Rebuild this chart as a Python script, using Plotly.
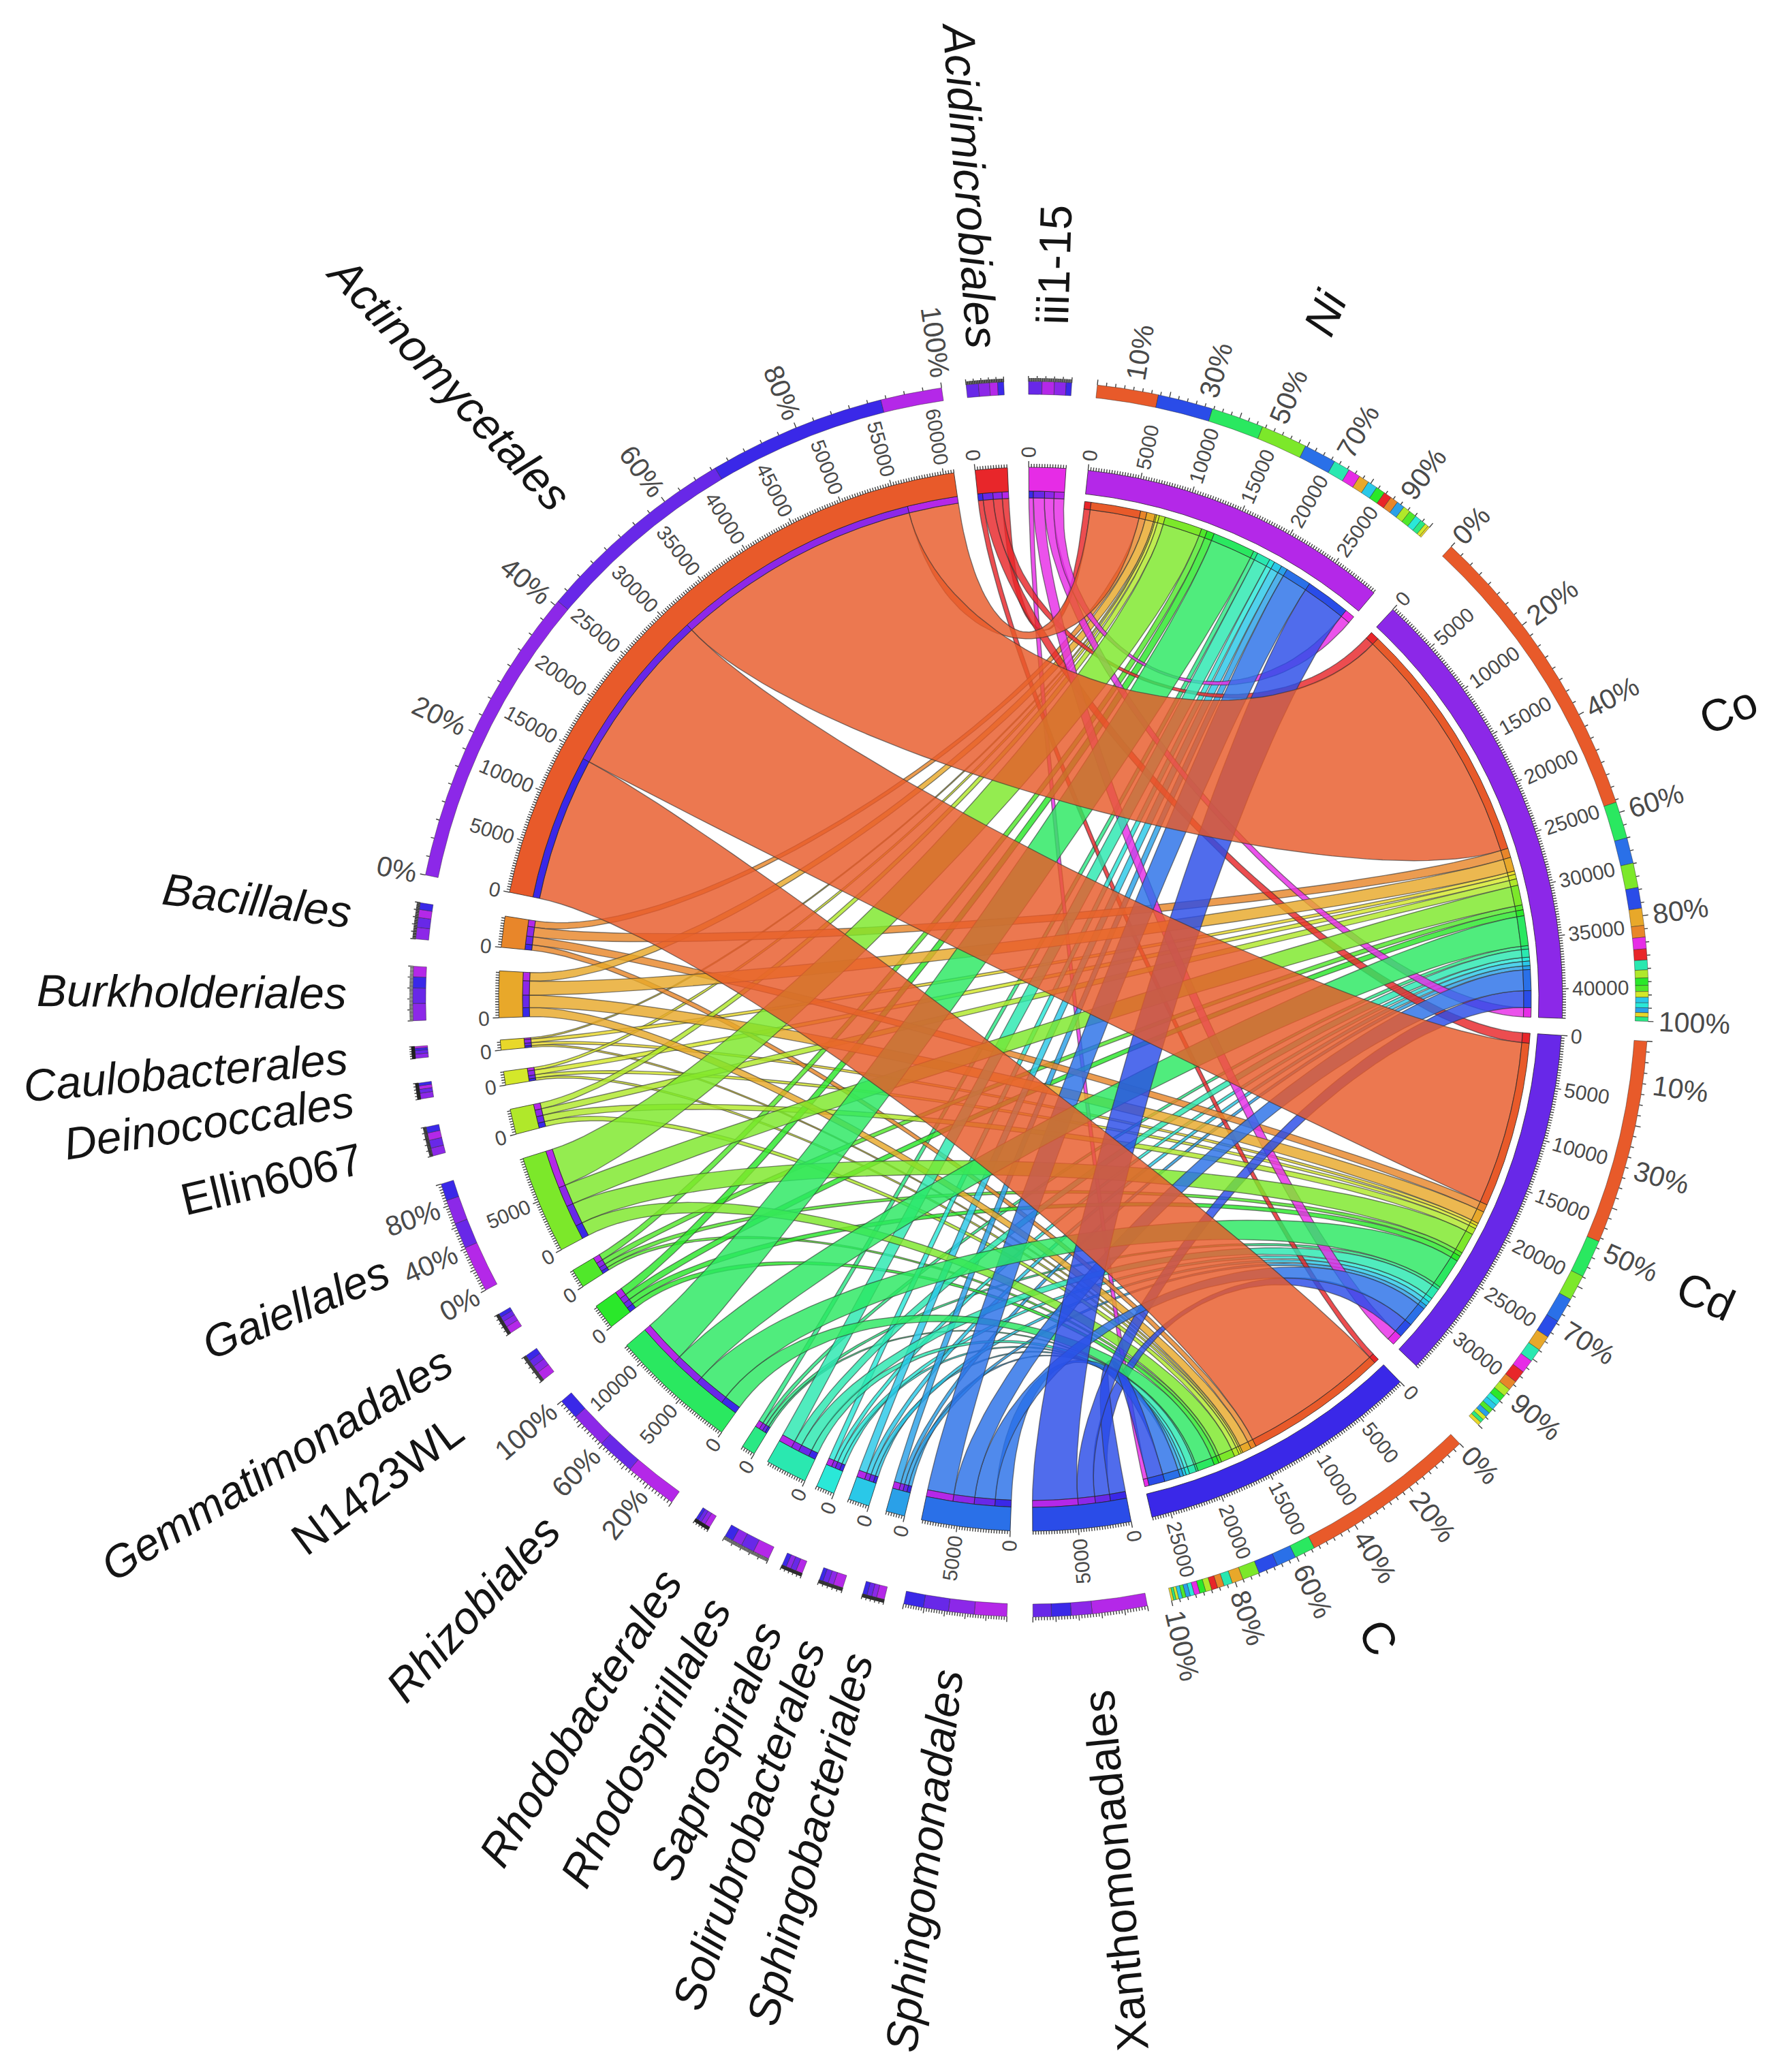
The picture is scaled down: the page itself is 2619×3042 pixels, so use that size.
import math
import plotly.graph_objects as go

# ---------- data ----------
ORDERS = ["Acidimicrobiales", "Actinomycetales", "Bacillales", "Burkholderiales", "Caulobacterales",
          "Deinococcales", "Ellin6067", "Gaiellales", "Gemmatimonadales", "N1423WL", "Rhizobiales",
          "Rhodobacterales", "Rhodospirillales", "Saprospirales", "Solirubrobacterales",
          "Sphingobacteriales", "Sphingomonadales", "Xanthomonadales", "iii1-15"]
NI = [650, 5000, 650, 850, 150, 280, 600, 3800, 600, 750, 4300, 450, 1350, 550, 800, 650, 2650, 4500, 1000]
CO = [900, 24800, 950, 1400, 350, 470, 650, 2000, 500, 600, 3000, 350, 800, 400, 450, 400, 2100, 1700, 950]
CD = [1000, 16700, 800, 1250, 280, 320, 650, 2100, 400, 550, 3100, 300, 1100, 450, 450, 400, 2050, 1500, 1100]
C_ = [500, 14500, 550, 900, 180, 230, 500, 1400, 300, 500, 1700, 200, 700, 350, 300, 350, 1600, 1600, 450]
METALS = ["Ni", "Co", "Cd", "C"]
MATRIX = {"Ni": NI, "Co": CO, "Cd": CD, "C": C_}

ORDER_COLORS = ["#E8262A", "#E85A2A", "#E8862A", "#E8A82A", "#E8D82A", "#D4E82A", "#B0E82A", "#7CE82A",
                "#50E82A", "#2AE82A", "#2AE860", "#2AE884", "#2AE8B0", "#2AE8D8", "#2AC8E8", "#2AA0E8",
                "#2A70E8", "#2A4CE8", "#E62CE6"]
METAL_COLORS = {"Ni": "#B428E8", "Co": "#8C28E8", "Cd": "#6828E8", "C": "#3A28E8"}

NAME_DIST = {"Ni": 1097, "Co": 1108, "Cd": 1083, "C": 1067, "Xanthomonadales": 1285, "Sphingomonadales": 1275,
             "Sphingobacteriales": 1275, "Solirubrobacterales": 1281, "Saprospirales": 1197,
             "Rhodospirillales": 1229, "Rhodobacterales": 1245, "Rhizobiales": 1213, "N1423WL": 1195,
             "Gemmatimonadales": 1300, "Gaiellales": 1170, "Ellin6067": 1145, "Deinococcales": 1220,
             "Caulobacterales": 1245, "Burkholderiales": 1232, "Bacillales": 1145, "Actinomycetales": 1243,
             "Acidimicrobiales": 1199, "iii1-15": 1079}
UPRIGHT = {"Ellin6067", "N1423WL", "iii1-15", "Co", "Cd", "C", "Xanthomonadales"}
PCT_LABELS = {"Actinomycetales": [0, 20, 40, 60, 80, 100], "Ni": [10, 30, 50, 70, 90],
              "Co": [0, 20, 40, 60, 80, 100], "Cd": [10, 30, 50, 70, 90], "C": [0, 20, 40, 60, 80, 100],
              "Gaiellales": [0, 40, 80], "Rhizobiales": [20, 60, 100]}

# ---------- layout of the circle ----------
W, H = 2619, 3042
CX, CY = 1513, 1467
UNITS_PER_DEG = 870.0
SEG_START_DEG = {"Ni": 6.2, "Co": 42.9, "Cd": 93.9, "C": 136.0, "Xanthomonadales": 169.1,
                 "Sphingomonadales": 182.2, "Sphingobacteriales": 193.7, "Solirubrobacterales": 197.7,
                 "Saprospirales": 201.7, "Rhodospirillales": 205.1, "Rhodobacterales": 211.3,
                 "Rhizobiales": 215.5, "N1423WL": 232.0, "Gemmatimonadales": 237.3, "Gaiellales": 241.9,
                 "Ellin6067": 255.3, "Deinococcales": 260.7, "Caulobacterales": 264.5,
                 "Burkholderiales": 268.0, "Bacillales": 275.6, "Actinomycetales": 281.6,
                 "Acidimicrobiales": 354.0, "iii1-15": 359.8}
R_OUT, R_RING = 781, 746
R_LEFT_STRIP = 736
R_RIGHT_GAP, R_RIGHT_STRIP = 735, 724
R_PCT_IN, R_PCT_OUT = 888, 907
R_TICK_LABEL = 795
R_PCT_LABEL = 922
RHO = 0.66
NAME_SIZE = 66
TICK_SIZE = 30
PCT_SIZE = 41


def P(r, deg):
    a = math.radians(deg)
    return CX + r * math.sin(a), CY - r * math.cos(a)


def arc(r, a, b):
    n = max(2, int(abs(b - a) / 0.25) + 2)
    return [P(r, a + (b - a) * i / (n - 1)) for i in range(n)]


def bez(r, a, b, n=50):
    p0, p3 = P(r[0], a), P(r[1], b)
    p1, p2 = P(r[0] * RHO, a), P(r[1] * RHO, b)
    out = []
    for i in range(n + 1):
        t = i / n
        u = 1 - t
        out.append(tuple(u**3 * p0[k] + 3 * u * u * t * p1[k] + 3 * u * t * t * p2[k] + t**3 * p3[k] for k in (0, 1)))
    return out


def rgba(hexc, a):
    return f"rgba({int(hexc[1:3],16)},{int(hexc[3:5],16)},{int(hexc[5:7],16)},{a})"


row_tot = {o: sum(MATRIX[m][i] for m in METALS) for i, o in enumerate(ORDERS)}
col_tot = {m: sum(MATRIX[m]) for m in METALS}
seq = list(SEG_START_DEG)
totals = {**row_tot, **col_tot}
seg_start = SEG_START_DEG

fig = go.Figure()


def poly(pts, fill, line="rgba(30,30,30,0.75)", lw=1.0):
    fig.add_trace(go.Scatter(x=[p[0] for p in pts] + [pts[0][0]], y=[p[1] for p in pts] + [pts[0][1]],
                             mode="lines", fill="toself", fillcolor=fill, line=dict(color=line, width=lw),
                             hoverinfo="skip", showlegend=False))


def band(r0, r1, a, b, fill, **kw):
    poly(arc(r1, a, b) + arc(r0, b, a), fill, **kw)


pos_left, pos_right = {}, {}
for i, o in enumerate(ORDERS):
    a = seg_start[o]
    for m in ["C", "Cd", "Co", "Ni"]:
        v = MATRIX[m][i] / UNITS_PER_DEG
        pos_left[(o, m)] = (a, a + v)
        a += v
for m in METALS:
    a = seg_start[m]
    for i, o in enumerate(ORDERS):
        v = MATRIX[m][i] / UNITS_PER_DEG
        pos_right[(o, m)] = (a, a + v)
        a += v

# ribbons, small below large
ribbons = sorted([(MATRIX[m][i], i, o, m) for i, o in enumerate(ORDERS) for m in METALS])
for val, i, o, m in ribbons:
    a1, a2 = pos_left[(o, m)]
    b1, b2 = pos_right[(o, m)]
    ra, rb = R_LEFT_STRIP, R_RIGHT_STRIP
    pts = arc(ra, a1, a2) + bez((ra, rb), a2, b1) + arc(rb, b1, b2) + bez((rb, ra), b2, a1)
    poly(pts, rgba(ORDER_COLORS[i], 0.82), line="rgba(50,50,50,0.6)", lw=1.4)

# thin strips
for val, i, o, m in ribbons:
    a1, a2 = pos_left[(o, m)]
    band(R_LEFT_STRIP, R_RING, a1, a2, METAL_COLORS[m])
    b1, b2 = pos_right[(o, m)]
    band(R_RIGHT_STRIP, R_RIGHT_GAP, b1, b2, ORDER_COLORS[i])

tick_x, tick_y, annots = [], [], []


def tick(r0, r1, deg):
    p, q = P(r0, deg), P(r1, deg)
    tick_x.extend([p[0], q[0], None])
    tick_y.extend([p[1], q[1], None])


def angle_for(th):
    th %= 360
    return th - 90 if th < 170 else th - 270


def label(txt, r, th, size, color="#4a4a4a", italic=False):
    fig_txt = f"<i>{txt}</i>" if italic else txt
    x, y = P(r, th)
    annots.append(dict(x=x, y=y, xref="x", yref="y", text=fig_txt, showarrow=False, xanchor="center",
                       yanchor="middle", textangle=angle_for(th),
                       font=dict(family="Liberation Sans", size=size, color=color)))


for s in seq:
    a0 = seg_start[s]
    tot = totals[s]
    span = tot / UNITS_PER_DEG
    is_metal = s in METALS
    col = METAL_COLORS[s] if is_metal else ORDER_COLORS[ORDERS.index(s)]
    band(R_RING, R_OUT, a0, a0 + span, col)
    if is_metal:
        parts = sorted([(MATRIX[s][i], ORDER_COLORS[i]) for i in range(len(ORDERS))], key=lambda z: -z[0])
    else:
        k = ORDERS.index(s)
        parts = sorted([(MATRIX[m][k], METAL_COLORS[m]) for m in METALS], key=lambda z: -z[0])
    a = a0
    for v, c in parts:
        d = v / UNITS_PER_DEG
        band(R_PCT_IN, R_PCT_OUT, a, a + d, c, line="rgba(30,30,30,0.55)", lw=0.8)
        a += d
    v = 0
    while v <= tot:
        th = a0 + v / UNITS_PER_DEG
        tick(R_OUT, R_OUT + (9 if v % 5000 == 0 else 5), th)
        if v % 5000 == 0:
            txt = str(v)
            label(txt, R_TICK_LABEL + 0.28 * TICK_SIZE * len(txt), th, TICK_SIZE)
        v += 250
    p = 0.0
    while p <= 100:
        tick(R_PCT_OUT, R_PCT_OUT + (8 if p % 20 == 0 else 5), a0 + span * p / 100)
        p += 2.5
    for p in PCT_LABELS.get(s, []):
        txt = f"{p}%"
        label(txt, R_PCT_LABEL + 0.3 * PCT_SIZE * (len(txt) + 0.3), a0 + span * p / 100, PCT_SIZE)
    label(s, NAME_DIST[s], a0 + span / 2, NAME_SIZE, color="#141414", italic=s not in UPRIGHT)

fig.add_trace(go.Scatter(x=tick_x, y=tick_y, mode="lines", line=dict(color="rgba(30,30,30,0.85)", width=1.4),
                         hoverinfo="skip", showlegend=False))

fig.update_layout(width=W, height=H, margin=dict(l=0, r=0, t=0, b=0), paper_bgcolor="white", plot_bgcolor="white",
                  showlegend=False, annotations=annots,
                  xaxis=dict(range=[0, W], visible=False, fixedrange=True),
                  yaxis=dict(range=[H, 0], visible=False, fixedrange=True))
fig.write_html("out.html", config={"displayModeBar": False},
               post_script="document.body.style.margin='0';document.documentElement.style.overflow='hidden';")
